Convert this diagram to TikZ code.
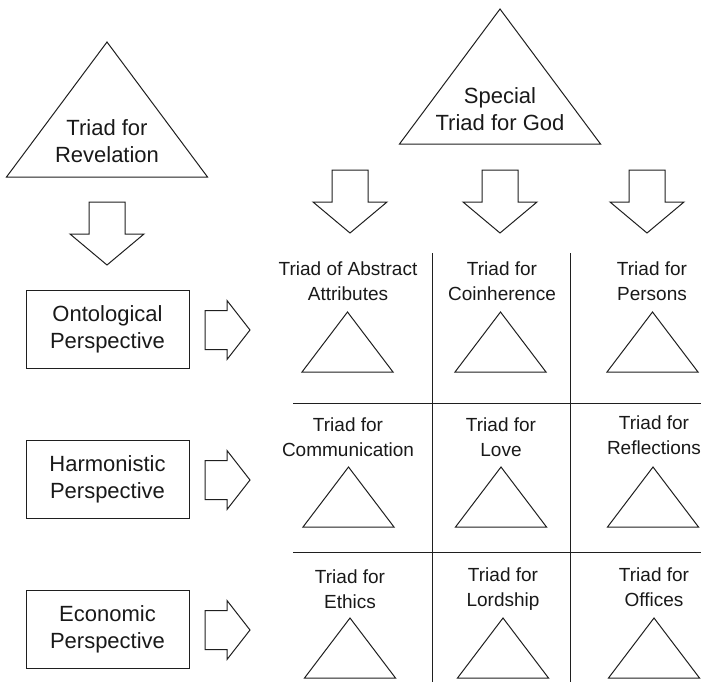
\documentclass[tikz,border=0pt]{standalone}
\usepackage{fontspec}
\setmainfont{Liberation Sans}
\newcommand{\dnblk}[2]{\draw[ln,shift={(#1,#2)}] (-18,0) -- (18,0) -- (18,32) -- (37,32) -- (0,63) -- (-37,32) -- (-18,32) -- cycle;}
\newcommand{\rtblk}[1]{\draw[ln,shift={(205,#1)}] (0,-19.5) -- (22,-19.5) -- (22,-29.5) -- (45,0) -- (22,29.5) -- (22,19.5) -- (0,19.5) -- cycle;}
\newcommand{\smtri}[2]{\draw[ln,shift={(#1,#2)}] (0,0) -- (45.5,60) -- (-45.5,60) -- cycle;}
\newcommand{\bigtri}[2]{\draw[ln,shift={(#1,#2)}] (0,0) -- (100.5,135) -- (-100.5,135) -- cycle;}
\begin{document}
\begin{tikzpicture}[x=1pt,y=-1pt,
  ln/.style={draw=black!88, line width=1pt, line join=miter},
  lbl/.style={align=center, font=\fontsize{19}{25}\selectfont, text=black!90, inner sep=0pt},
  biglbl/.style={align=center, font=\fontsize{22}{27}\selectfont, text=black!90, inner sep=0pt},
  pbox/.style={ln, rectangle, minimum width=163pt, minimum height=78pt, biglbl}]
\useasboundingbox (0,0) rectangle (701,682);
% top triangles
\bigtri{107}{42}
\node[biglbl] (rev) at (107,141) {Triad for\\Revelation};
\bigtri{500}{9}
\node[biglbl] (god) at (500,109) {Special\\Triad for God};
% down arrows
\dnblk{107}{202}
\dnblk{350}{170}
\dnblk{500}{170}
\dnblk{647}{170}
% perspective boxes
\node[pbox] (onto) at (107.5,329) {Ontological\\Perspective};
\node[pbox] (harm) at (107.5,479.5) {Harmonistic\\Perspective};
\node[pbox] (econ) at (107.5,629.5) {Economic\\Perspective};
\rtblk{330}
\rtblk{480}
\rtblk{630}
% grid
\draw[ln] (432,253) -- (432,682);
\draw[ln] (570,253) -- (570,682);
\draw[ln] (293,403) -- (701,403);
\draw[ln] (293,552) -- (701,552);
% row 1
\node[lbl] (abs) at (348,281.5) {Triad of Abstract\\Attributes};
\node[lbl] (coi) at (502,281.5) {Triad for\\Coinherence};
\node[lbl] (per) at (652,281.5) {Triad for\\Persons};
\smtri{347.5}{312}
\smtri{500.5}{312}
\smtri{652.5}{312}
% row 2
\node[lbl] (com) at (348,437.5) {Triad for\\Communication};
\node[lbl] (lov) at (501,437.5) {Triad for\\Love};
\node[lbl] (ref) at (654,435.5) {Triad for\\Reflections};
\smtri{348.5}{467}
\smtri{501}{467}
\smtri{653}{467}
% row 3
\node[lbl] (eth) at (350,589.5) {Triad for\\Ethics};
\node[lbl] (lor) at (503,589.5) {Triad for\\Lordship};
\node[lbl] (off) at (654,587.5) {Triad for\\Offices};
\smtri{350}{618}
\smtri{503}{618}
\smtri{654}{618}
\end{tikzpicture}
\end{document}
